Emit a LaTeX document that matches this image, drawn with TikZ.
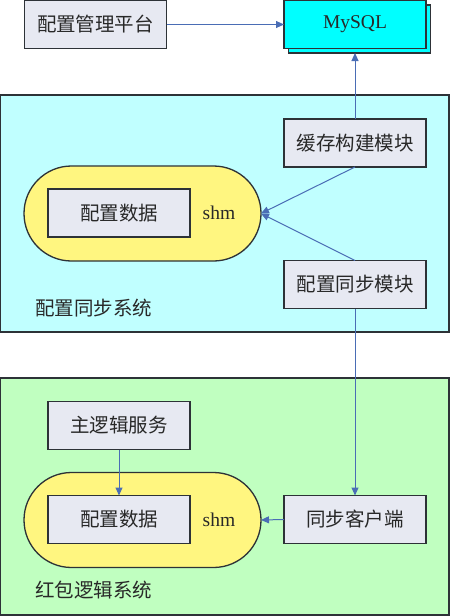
\documentclass[tikz,border=0pt]{standalone}
\usepackage{fontspec}
\setmainfont{Liberation Serif}
\newfontfamily\cjk{Noto Sans CJK SC}
\usetikzlibrary{shapes.misc,arrows.meta}
\definecolor{boxfill}{RGB}{231,233,242}
\definecolor{boxline}{RGB}{45,50,55}
\definecolor{sysA}{RGB}{192,255,255}
\definecolor{sysB}{RGB}{192,255,192}
\definecolor{ovalfill}{RGB}{255,246,128}
\definecolor{arrowblue}{RGB}{74,109,181}
\definecolor{mysqlfill}{RGB}{0,255,255}
\definecolor{txt}{RGB}{40,40,40}
\begin{document}
\begin{tikzpicture}[x=1pt,y=-1pt,
  every node/.style={inner sep=0pt,outer sep=0pt,font=\fontsize{19}{21}\selectfont,text=txt},
  modbox/.style={draw=boxline,line width=1.3pt,fill=boxfill,minimum width=142pt,minimum height=48pt,font=\fontsize{19.5}{21}\selectfont\cjk},
  sysbox/.style={draw=boxline,line width=1.5pt,minimum width=449pt,minimum height=237pt},
  shmoval/.style={rounded rectangle,draw=boxline,line width=1.3pt,fill=ovalfill,minimum width=237pt,minimum height=95pt},
  conn/.style={draw=arrowblue,line width=1pt},
  arr/.style={conn,-{Triangle[length=8pt,width=7pt]}},
  syslabel/.style={anchor=west,font=\fontsize{19.5}{21}\selectfont\cjk},
  shmlabel/.style={font=\fontsize{19.5}{21}\selectfont}
]
\useasboundingbox (0,0) rectangle (450,616);
% system boxes
\node[sysbox,fill=sysA] (sysA) at (224.5,213.5) {};
\node[sysbox,fill=sysB] (sysB) at (224.5,496.5) {};
% top row
\node[modbox] (admin) at (95.5,24.5) {配置管理平台};
\node[draw=boxline,line width=1.3pt,fill=mysqlfill,minimum width=142pt,minimum height=48pt] (mysqlsh) at (359.5,29) {};
\node[draw=boxline,line width=1.3pt,fill=mysqlfill,minimum width=142pt,minimum height=48pt,font=\fontsize{19.5}{21}\selectfont] (mysql) at (355,24.5) {MySQL};
% system A
\node[modbox] (cache) at (355,143) {缓存构建模块};
\node[shmoval] (ovalA) at (142.5,213.5) {};
\node[modbox] (dataA) at (119,213) {配置数据};
\node[shmlabel] (shmA) at (219,213) {shm};
\node[modbox] (syncmod) at (355,284.5) {配置同步模块};
\node[syslabel] (labA) at (35,308) {配置同步系统};
% system B
\node[modbox] (mainlogic) at (119,425.5) {主逻辑服务};
\node[shmoval] (ovalB) at (142.5,520) {};
\node[modbox] (dataB) at (119,519.5) {配置数据};
\node[shmlabel] (shmB) at (219,520) {shm};
\node[modbox] (client) at (355,519.5) {同步客户端};
\node[syslabel] (labB) at (35,590) {红包逻辑系统};
% connectors
\draw[arr] (admin.east) -- (mysql.west);
\draw[arr] (cache.north) -- (cache.north |- mysqlsh.south);
\draw[arr] (cache.south) -- (ovalA.east);
\draw[arr] (syncmod.north) -- (ovalA.east);
\draw[arr] (syncmod.south) -- (client.north);
\draw[arr] (mainlogic.south) -- (dataB.north);
\draw[arr] (client.west) -- (ovalB.east);
\end{tikzpicture}
\end{document}
